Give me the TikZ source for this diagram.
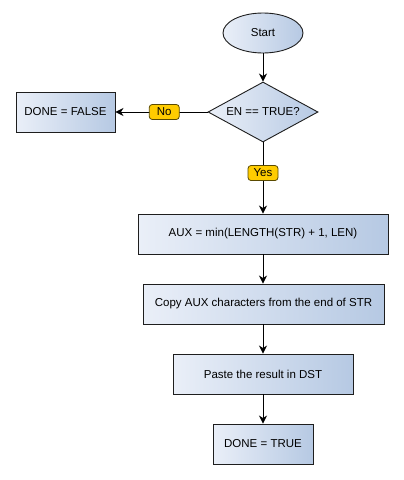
\documentclass[tikz,border=0pt]{standalone}
\usepackage{fontspec}
\setmainfont{Liberation Sans}
\usetikzlibrary{shapes.geometric,arrows.meta}
\definecolor{boxlight}{HTML}{EAEFF8}
\definecolor{boxdark}{HTML}{B6C9E3}
\definecolor{edgegray}{HTML}{1E1E1E}
\definecolor{tagfill}{HTML}{FFCC00}
\definecolor{tagedge}{HTML}{5A4A00}
\begin{document}
\begin{tikzpicture}[x=1pt,y=-1pt,
		font=\fontsize{11.5}{13}\selectfont,
		procbox/.style={draw=edgegray,line width=0.9pt,left color=boxlight,right color=boxdark,
			minimum height=40pt,inner sep=0pt},
		termnode/.style={ellipse,draw=edgegray,line width=0.9pt,left color=boxlight,right color=boxdark,
			minimum width=80pt,minimum height=40pt,inner sep=0pt},
		decision/.style={diamond,aspect=1.83,draw=edgegray,line width=0.9pt,left color=boxlight,right color=boxdark,
			minimum width=110pt,minimum height=60pt,inner sep=0pt},
		answer/.style={draw=tagedge,line width=0.8pt,fill=tagfill,rounded corners=3pt,
			minimum width=30pt,minimum height=15pt,inner sep=0pt},
		flow/.style={draw=black,line width=0.9pt,-{Stealth[length=8pt,width=8pt,inset=2.5pt]}}]
	\useasboundingbox (0,0) rectangle (404,480);
	\fill[white] (0,0) rectangle (404,480);
	% nodes
	\node[termnode] (start) at (263,33) {Start};
	\node[decision] (check) at (263,112) {EN == TRUE?};
	\node[procbox,minimum width=99pt] (fail) at (65.5,112) {DONE = FALSE};
	\node[procbox,minimum width=250pt] (aux) at (263,234) {AUX = min(LENGTH(STR) + 1, LEN)};
	\node[procbox,minimum width=241pt] (copy) at (263.5,304) {Copy AUX characters from the end of STR};
	\node[procbox,minimum width=180pt] (paste) at (263,374) {Paste the result in DST};
	\node[procbox,minimum width=100pt] (done) at (263,444) {DONE = TRUE};
	% connectors
	\draw[flow] (start) -- (check);
	\draw[flow] (check) -- node[answer,pos=0.47] {No} (fail);
	\draw[flow] (check.south) -- node[answer,pos=0.43] {Yes} (aux.north -| check.south);
	\draw[flow] (aux) -- (copy.north -| aux.south);
	\draw[flow] (copy.south -| paste.north) -- (paste);
	\draw[flow] (paste) -- (done);
\end{tikzpicture}
\end{document}
